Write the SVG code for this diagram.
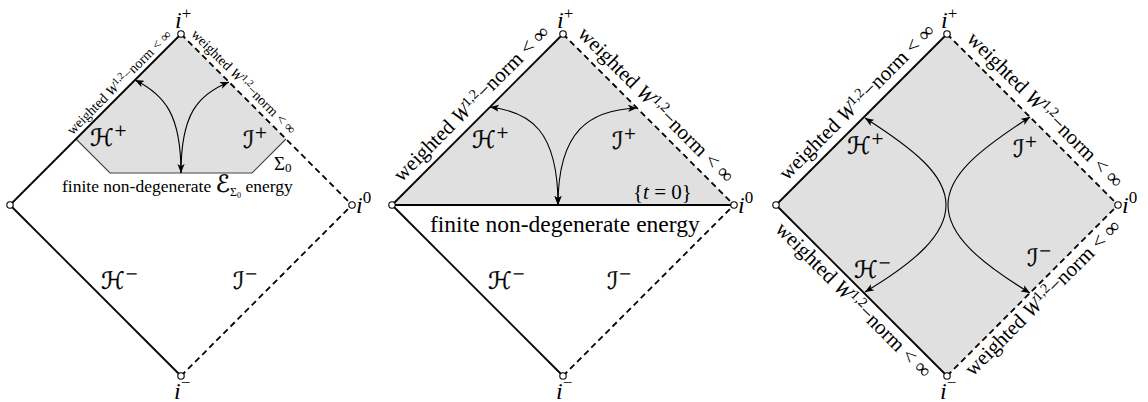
<svg xmlns="http://www.w3.org/2000/svg" width="1148" height="402" viewBox="0 0 1148 402">
<style>
.shade{fill:#e0e0e0;stroke:none}
.edge{stroke:#000;stroke-width:1.8;fill:none}
.dash{stroke-dasharray:6 4}
.sig{stroke:#444;stroke-width:1.1;fill:none}
.v{fill:#fff;stroke:#000;stroke-width:1.1}
.arr{stroke:#000;stroke-width:1.1;fill:none;marker-start:url(#ah);marker-end:url(#ah)}
.arr1{stroke:#000;stroke-width:1.1;fill:none;marker-end:url(#ah)}
text{font-family:"Liberation Serif","DejaVu Serif",serif;fill:#000}
.pt{font-size:24px}
.it{font-style:italic}
.scr{font-family:"DejaVu Serif","DejaVu Sans",serif;font-size:24px;stroke:#000;stroke-width:0.35}
.l20{font-size:21px}
.l14{font-size:14px}
</style>
<defs>
<marker id="ah" viewBox="0 0 10 8" refX="10" refY="4" markerWidth="9" markerHeight="7.2" markerUnits="userSpaceOnUse" orient="auto-start-reverse">
<path d="M0,0 L10,4 L0,8 L2.5,4 z" fill="#000"/>
</marker>
</defs>

<!-- LEFT DIAGRAM -->
<g id="left-region">
<polygon class="shade" points="181,34 76,139 110,173 252,173 286,139"/>
<polyline class="sig" points="76,139 110,173 252,173 286,139"/>
</g>
<g id="left-edges">
<line class="edge" x1="10" y1="205" x2="181" y2="34"/>
<line class="edge" x1="10" y1="205" x2="181" y2="376"/>
<line class="edge dash" x1="181" y1="34" x2="352" y2="205"/>
<line class="edge dash" x1="181" y1="376" x2="352" y2="205"/>
</g>
<g id="left-connectors">
<path class="arr" d="M181,173 C181,115 165,95 135,80"/>
<path class="arr1" d="M181,173 C181,115 197,95 229,82"/>
</g>
<g id="left-vertices">
<circle class="v" cx="181" cy="34" r="3.2"/>
<circle class="v" cx="10" cy="205" r="3.2"/>
<circle class="v" cx="352" cy="205" r="3.2"/>
<circle class="v" cx="181" cy="376" r="3.2"/>
</g>
<g id="left-labels">
<text class="pt it" x="175" y="28">i<tspan font-style="normal" dy="-9" font-size="17">+</tspan></text>
<text class="pt it" x="356" y="213">i<tspan font-style="normal" dy="-10" font-size="17">0</tspan></text>
<text class="pt it" x="174" y="399">i<tspan font-style="normal" dy="-11" font-size="17">−</tspan></text>
<text class="scr" x="90" y="146">ℋ<tspan dy="-10" font-size="16" stroke-width="0">+</tspan></text>
<text class="scr" x="243" y="148">ℐ<tspan dy="-10" font-size="16" stroke-width="0">+</tspan></text>
<text class="scr" x="101" y="289">ℋ<tspan dy="-10" font-size="16" stroke-width="0">−</tspan></text>
<text class="scr" x="233" y="289">ℐ<tspan dy="-10" font-size="16" stroke-width="0">−</tspan></text>
<text font-size="19" x="274" y="170">Σ<tspan dy="2" font-size="13">0</tspan></text>
<text font-size="17.5" x="62" y="192">finite non-degenerate <tspan class="scr" font-size="17" stroke-width="0.2">ℰ</tspan><tspan dy="4" font-size="12">Σ</tspan><tspan dy="2" font-size="8">0</tspan><tspan dy="-6"> energy</tspan></text>
<g transform="translate(95.5,119.5) rotate(-45)"><text class="l14" x="43" y="-5" text-anchor="middle">weighted <tspan class="it">W</tspan><tspan dy="-5" font-size="10">1,2</tspan><tspan dy="5">−norm &lt; ∞</tspan></text></g>
<g transform="translate(266.5,119.5) rotate(45)"><text class="l14" x="-43" y="-6" text-anchor="middle">weighted <tspan class="it">W</tspan><tspan dy="-5" font-size="10">1,2</tspan><tspan dy="5">−norm &lt; ∞</tspan></text></g>
</g>

<!-- MIDDLE DIAGRAM -->
<g id="middle-region">
<polygon class="shade" points="563,34 392,205 734,205"/>
</g>
<g id="middle-edges">
<line class="edge" x1="392" y1="205" x2="563" y2="34"/>
<line class="edge" x1="392" y1="205" x2="563" y2="376"/>
<line class="edge" x1="392" y1="205" x2="734" y2="205"/>
<line class="edge dash" x1="563" y1="34" x2="734" y2="205"/>
<line class="edge dash" x1="563" y1="376" x2="734" y2="205"/>
</g>
<g id="middle-connectors">
<path class="arr" d="M558,205 C558,130 530,112 490,107"/>
<path class="arr" d="M558,205 C558,130 590,110 637,108"/>
</g>
<g id="middle-vertices">
<circle class="v" cx="563" cy="34" r="3.2"/>
<circle class="v" cx="392" cy="205" r="3.2"/>
<circle class="v" cx="734" cy="205" r="3.2"/>
<circle class="v" cx="563" cy="376" r="3.2"/>
</g>
<g id="middle-labels">
<text class="pt it" x="557" y="28">i<tspan font-style="normal" dy="-9" font-size="17">+</tspan></text>
<text class="pt it" x="738" y="213">i<tspan font-style="normal" dy="-10" font-size="17">0</tspan></text>
<text class="pt it" x="556" y="399">i<tspan font-style="normal" dy="-11" font-size="17">−</tspan></text>
<text class="scr" x="472" y="148">ℋ<tspan dy="-10" font-size="16" stroke-width="0">+</tspan></text>
<text class="scr" x="612" y="149">ℐ<tspan dy="-10" font-size="16" stroke-width="0">+</tspan></text>
<text class="scr" x="488" y="289">ℋ<tspan dy="-10" font-size="16" stroke-width="0">−</tspan></text>
<text class="scr" x="607" y="289">ℐ<tspan dy="-10" font-size="16" stroke-width="0">−</tspan></text>
<text font-size="21" x="633" y="199">{<tspan class="it">t</tspan> = 0}</text>
<text font-size="23.5" x="430" y="232">finite non-degenerate energy</text>
<g transform="translate(477.5,119.5) rotate(-45)"><text class="l20" x="7" y="-9" text-anchor="middle">weighted <tspan class="it">W</tspan><tspan dy="-7" font-size="14">1,2</tspan><tspan dy="7">−norm &lt; ∞</tspan></text></g>
<g transform="translate(648.5,119.5) rotate(45)"><text class="l20" x="-5" y="-9" text-anchor="middle">weighted <tspan class="it">W</tspan><tspan dy="-7" font-size="14">1,2</tspan><tspan dy="7">−norm &lt; ∞</tspan></text></g>
</g>

<!-- RIGHT DIAGRAM -->
<g id="right-region">
<polygon class="shade" points="947,34 776,205 947,376 1118,205"/>
</g>
<g id="right-edges">
<line class="edge" x1="776" y1="205" x2="947" y2="34"/>
<line class="edge" x1="776" y1="205" x2="947" y2="376"/>
<line class="edge dash" x1="947" y1="34" x2="1118" y2="205"/>
<line class="edge dash" x1="947" y1="376" x2="1118" y2="205"/>
</g>
<g id="right-connectors">
<path class="arr" d="M865,118 C915,150 946,175 946,205 C946,235 915,262 865,292"/>
<path class="arr" d="M1030,117 C979,150 948,175 948,205 C948,235 979,262 1030,293"/>
</g>
<g id="right-vertices">
<circle class="v" cx="947" cy="34" r="3.2"/>
<circle class="v" cx="776" cy="205" r="3.2"/>
<circle class="v" cx="1118" cy="205" r="3.2"/>
<circle class="v" cx="947" cy="376" r="3.2"/>
</g>
<g id="right-labels">
<text class="pt it" x="941" y="28">i<tspan font-style="normal" dy="-9" font-size="17">+</tspan></text>
<text class="pt it" x="1122" y="213">i<tspan font-style="normal" dy="-10" font-size="17">0</tspan></text>
<text class="pt it" x="940" y="399">i<tspan font-style="normal" dy="-11" font-size="17">−</tspan></text>
<text class="scr" x="847" y="154">ℋ<tspan dy="-10" font-size="16" stroke-width="0">+</tspan></text>
<text class="scr" x="1013" y="157">ℐ<tspan dy="-10" font-size="16" stroke-width="0">+</tspan></text>
<text class="scr" x="854" y="278">ℋ<tspan dy="-10" font-size="16" stroke-width="0">−</tspan></text>
<text class="scr" x="1027" y="266">ℐ<tspan dy="-10" font-size="16" stroke-width="0">−</tspan></text>
<g transform="translate(861.5,119.5) rotate(-45)"><text class="l20" x="9" y="-9" text-anchor="middle">weighted <tspan class="it">W</tspan><tspan dy="-7" font-size="14">1,2</tspan><tspan dy="7">−norm &lt; ∞</tspan></text></g>
<g transform="translate(1032.5,119.5) rotate(45)"><text class="l20" x="2" y="-9" text-anchor="middle">weighted <tspan class="it">W</tspan><tspan dy="-7" font-size="14">1,2</tspan><tspan dy="7">−norm &lt; ∞</tspan></text></g>
<g transform="translate(861.5,290.5) rotate(45)"><text class="l20" x="1" y="19" text-anchor="middle">weighted <tspan class="it">W</tspan><tspan dy="-7" font-size="14">1,2</tspan><tspan dy="7">−norm &lt; ∞</tspan></text></g>
<g transform="translate(1032.5,290.5) rotate(-45)"><text class="l20" x="2" y="19" text-anchor="middle">weighted <tspan class="it">W</tspan><tspan dy="-7" font-size="14">1,2</tspan><tspan dy="7">−norm &lt; ∞</tspan></text></g>
</g>
</svg>
